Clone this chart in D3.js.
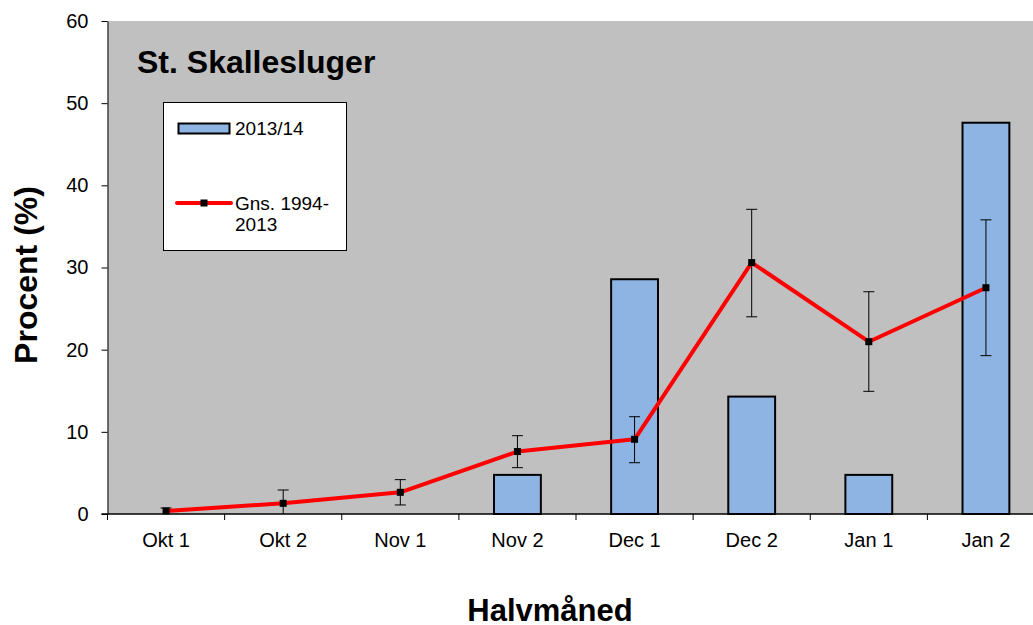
<!DOCTYPE html>
<html>
<head>
<meta charset="utf-8">
<script src="https://cdn.jsdelivr.net/npm/d3@7"></script>
<style>
    body { margin: 0; background: #fff; }
    svg { display: block; font-family: Arial, "Liberation Sans", sans-serif; }
</style>
</head>
<body>
<div id="chart"></div>
<script>

// Data
const categories = ["Okt 1", "Okt 2", "Nov 1", "Nov 2", "Dec 1", "Dec 2", "Jan 1", "Jan 2"];
const season = [0, 0, 0, 4.76, 28.57, 14.29, 4.76, 47.62];
const average = [0.37, 1.3, 2.64, 7.6, 9.09, 30.6, 20.97, 27.54];
const errLow = [0, 0, 1.1, 5.64, 6.24, 24.0, 14.93, 19.27];
const errHigh = [0.73, 2.92, 4.18, 9.53, 11.84, 37.08, 27.05, 35.8];
const yTicks = [0, 10, 20, 30, 40, 50, 60];

const width = 1033;
const height = 625;

const plotLeft = 107.5;
const plotTop = 21;
const plotBottom = 514;
const plotRight = 1044.5;

const svg = d3.select("#chart")
    .append("svg")
    .attr("width", width)
    .attr("height", height);

const x = d3.scaleBand()
    .domain(categories)
    .range([plotLeft, plotRight])
    .paddingInner(0)
    .paddingOuter(0);

const y = d3.scaleLinear()
    .domain([0, 60])
    .range([plotBottom, plotTop]);

// Plot background
svg.append("rect")
    .attr("x", plotLeft)
    .attr("y", plotTop)
    .attr("width", plotRight - plotLeft)
    .attr("height", plotBottom - plotTop)
    .attr("fill", "#c0c0c0");

// Bars
const barW = x.bandwidth() * 0.4;

svg.selectAll(".bar")
    .data(categories)
    .enter()
    .append("rect")
    .attr("class", "bar")
    .attr("x", function(d) { return x(d) + x.bandwidth() / 2 - barW / 2; })
    .attr("y", function(d, i) { return y(season[i]); })
    .attr("width", barW)
    .attr("height", function(d, i) { return plotBottom - y(season[i]); })
    .attr("fill", "#8eb4e3")
    .attr("stroke", "#000")
    .attr("stroke-width", 2)
    .style("display", function(d, i) { return season[i] > 0 ? null : "none"; });

// Error bars
const cx = function(d) { return x(d) + x.bandwidth() / 2; };

const err = svg.append("g")
    .attr("stroke", "#000")
    .attr("stroke-width", 1);

categories.forEach(function(d, i) {
    err.append("line")
        .attr("x1", cx(d)).attr("x2", cx(d))
        .attr("y1", y(errLow[i])).attr("y2", y(errHigh[i]));
    err.append("line")
        .attr("x1", cx(d) - 5.5).attr("x2", cx(d) + 5.5)
        .attr("y1", y(errHigh[i])).attr("y2", y(errHigh[i]));
    if (errLow[i] > 0) {
        err.append("line")
            .attr("x1", cx(d) - 5.5).attr("x2", cx(d) + 5.5)
            .attr("y1", y(errLow[i])).attr("y2", y(errLow[i]));
    }
});

// Average line
const line = d3.line()
    .x(function(d, i) { return cx(categories[i]); })
    .y(function(d) { return y(d); });

svg.append("path")
    .datum(average)
    .attr("d", line)
    .attr("fill", "none")
    .attr("stroke", "#ff0000")
    .attr("stroke-width", 4)
    .attr("stroke-linejoin", "round");

svg.selectAll(".marker")
    .data(average)
    .enter()
    .append("rect")
    .attr("class", "marker")
    .attr("x", function(d, i) { return cx(categories[i]) - 3.5; })
    .attr("y", function(d) { return y(d) - 3.5; })
    .attr("width", 7)
    .attr("height", 7)
    .attr("fill", "#000");

// Axes
const yAxis = svg.append("g")
    .attr("transform", "translate(" + plotLeft + ",0)")
    .call(d3.axisLeft(y).tickValues(yTicks).tickSize(6).tickSizeOuter(0));

yAxis.select(".domain").attr("stroke", "#000");
yAxis.selectAll(".tick line").attr("stroke", "#000");
yAxis.selectAll(".tick text")
    .attr("x", -19)
    .attr("font-size", 20)
    .attr("font-family", "Arial, 'Liberation Sans', sans-serif")
    .attr("fill", "#000");

svg.append("line")
    .attr("x1", plotLeft - 6).attr("x2", plotRight)
    .attr("y1", plotBottom).attr("y2", plotBottom)
    .attr("stroke", "#000")
    .attr("stroke-width", 1.5);

// x ticks sit on category boundaries
svg.selectAll(".xtick")
    .data(categories)
    .enter()
    .append("line")
    .attr("x1", function(d) { return x(d); })
    .attr("x2", function(d) { return x(d); })
    .attr("y1", plotBottom)
    .attr("y2", plotBottom + 6)
    .attr("stroke", "#000");

svg.selectAll(".xlabel")
    .data(categories)
    .enter()
    .append("text")
    .attr("x", cx)
    .attr("y", 547)
    .attr("text-anchor", "middle")
    .attr("font-size", 20)
    .attr("fill", "#000")
    .text(function(d) { return d; });

// Titles
svg.append("text")
    .attr("x", 137)
    .attr("y", 73)
    .attr("font-size", 32)
    .attr("font-weight", "bold")
    .text("St. Skallesluger");

svg.append("text")
    .attr("transform", "translate(37,275) rotate(-90)")
    .attr("text-anchor", "middle")
    .attr("font-size", 32)
    .attr("font-weight", "bold")
    .text("Procent (%)");

svg.append("text")
    .attr("x", 550)
    .attr("y", 621)
    .attr("text-anchor", "middle")
    .attr("font-size", 31)
    .attr("font-weight", "bold")
    .text("Halvmåned");

// Legend
const legend = svg.append("g");

legend.append("rect")
    .attr("x", 163.5)
    .attr("y", 102.5)
    .attr("width", 183)
    .attr("height", 148)
    .attr("fill", "#fff")
    .attr("stroke", "#000");

legend.append("rect")
    .attr("x", 178.5)
    .attr("y", 123.5)
    .attr("width", 51)
    .attr("height", 10)
    .attr("fill", "#8eb4e3")
    .attr("stroke", "#000")
    .attr("stroke-width", 2);

legend.append("text")
    .attr("x", 235)
    .attr("y", 135)
    .attr("font-size", 19)
    .text("2013/14");

legend.append("line")
    .attr("x1", 177).attr("x2", 231)
    .attr("y1", 203).attr("y2", 203)
    .attr("stroke", "#ff0000")
    .attr("stroke-width", 4)
    .attr("stroke-linecap", "round");

legend.append("rect")
    .attr("x", 200.5)
    .attr("y", 199.5)
    .attr("width", 7)
    .attr("height", 7)
    .attr("fill", "#000");

legend.append("text")
    .attr("x", 235)
    .attr("y", 210)
    .attr("font-size", 19)
    .text("Gns. 1994-");

legend.append("text")
    .attr("x", 235)
    .attr("y", 231)
    .attr("font-size", 19)
    .text("2013");

</script>
</body>
</html>
